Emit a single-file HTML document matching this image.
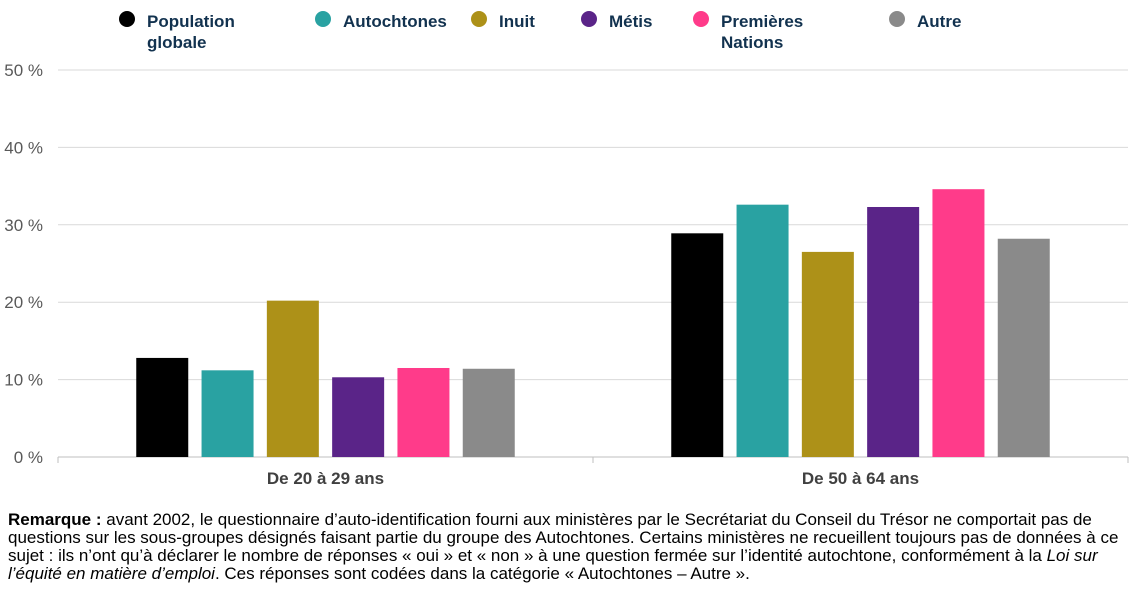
<!DOCTYPE html>
<html><head><meta charset="utf-8"><style>
body{margin:0;background:#fff;width:1140px;height:594px;overflow:hidden;font-family:"Liberation Sans",sans-serif}
.note{position:absolute;left:8px;top:511px;width:1126px;font-size:17px;line-height:18px;color:#000}
</style></head><body>
<svg id="chart" width="1140" height="500" style="position:absolute;left:0;top:0" font-family="Liberation Sans, sans-serif"></svg>
<div class="note"><b>Remarque :</b> avant 2002, le questionnaire d’auto-identification fourni aux ministères par le Secrétariat du Conseil du Trésor ne comportait pas de questions sur les sous-groupes désignés faisant partie du groupe des Autochtones. Certains ministères ne recueillent toujours pas de données à ce sujet : ils n’ont qu’à déclarer le nombre de réponses « oui » et « non » à une question fermée sur l’identité autochtone, conformément à la <i>Loi sur l’équité en matière d’emploi</i>. Ces réponses sont codées dans la catégorie « Autochtones – Autre ».</div>
<script>
const categories=["De 20 à 29 ans","De 50 à 64 ans"];
const seriesNames=["Population globale","Autochtones","Inuit","Métis","Premières Nations","Autre"];
const populationGlobale=[12.8,28.9];
const autochtones=[11.2,32.6];
const inuit=[20.2,26.5];
const metis=[10.3,32.3];
const premieresNations=[11.5,34.6];
const autre=[11.4,28.2];
const yTicks=[0,10,20,30,40,50];
const series=[populationGlobale,autochtones,inuit,metis,premieresNations,autre];
const colors=["#000000","#29a2a2","#ad9118","#5a2488","#ff3b8a","#8a8a8a"];
const NS="http://www.w3.org/2000/svg";
const svg=document.getElementById('chart');
const x0=58,x1=1128,y0=457,yTop=70;
const y=v=>y0-(v/50)*(y0-yTop);
const catW=(x1-x0)/categories.length;
function mk(t,a){const e=document.createElementNS(NS,t);for(const k in a)e.setAttribute(k,a[k]);svg.appendChild(e);return e;}
yTicks.forEach(t=>{
  if(t>0){const g=mk('line',{x1:x0,x2:x1,y1:y(t),y2:y(t),stroke:'#d9d9d9','stroke-width':1});
  
  }
  const l=mk('text',{x:43,y:y(t)+6,'text-anchor':'end','font-size':17,fill:'#595959'});
  l.textContent=t+' %';
  
  
});
const ax=mk('line',{x1:x0,x2:x1,y1:y0,y2:y0,stroke:'#bfbfbf','stroke-width':1});


for(let i=0;i<=categories.length;i++){const t=mk('line',{x1:x0+i*catW,x2:x0+i*catW,y1:y0,y2:y0+6,stroke:'#bfbfbf'});

}
const pitch=65.3,bw=52;
categories.forEach((c,ci)=>{
  const cx=x0+catW*(ci+0.5);
  series.forEach((s,si)=>{
    const bx=cx+(si-2.5)*pitch-bw/2;
    const r=mk('rect',{x:bx,y:y(s[ci]),width:bw,height:y0-y(s[ci]),fill:colors[si]});
    
    
  });
  const l=mk('text',{x:cx,y:484,'text-anchor':'middle','font-size':17,'font-weight':'bold',fill:'#404040'});
  l.textContent=c;
  
  
});
const legX=[127,323,479,589,701,897];
const legLines=[["Population","globale"],["Autochtones"],["Inuit"],["Métis"],["Premières","Nations"],["Autre"]];
legLines.forEach((ls,i)=>{
  const c=mk('circle',{cx:legX[i],cy:19,r:8,fill:colors[i]});
  
  
  const t=mk('text',{x:legX[i]+20,y:27,'font-size':17,'font-weight':'bold',fill:'#12324f'});
  
  
  ls.forEach((s,j)=>{const ts=document.createElementNS(NS,'tspan');ts.setAttribute('x',legX[i]+20);ts.setAttribute('dy',j?21:0);ts.textContent=s;t.appendChild(ts);});
});
</script>
</body></html>
